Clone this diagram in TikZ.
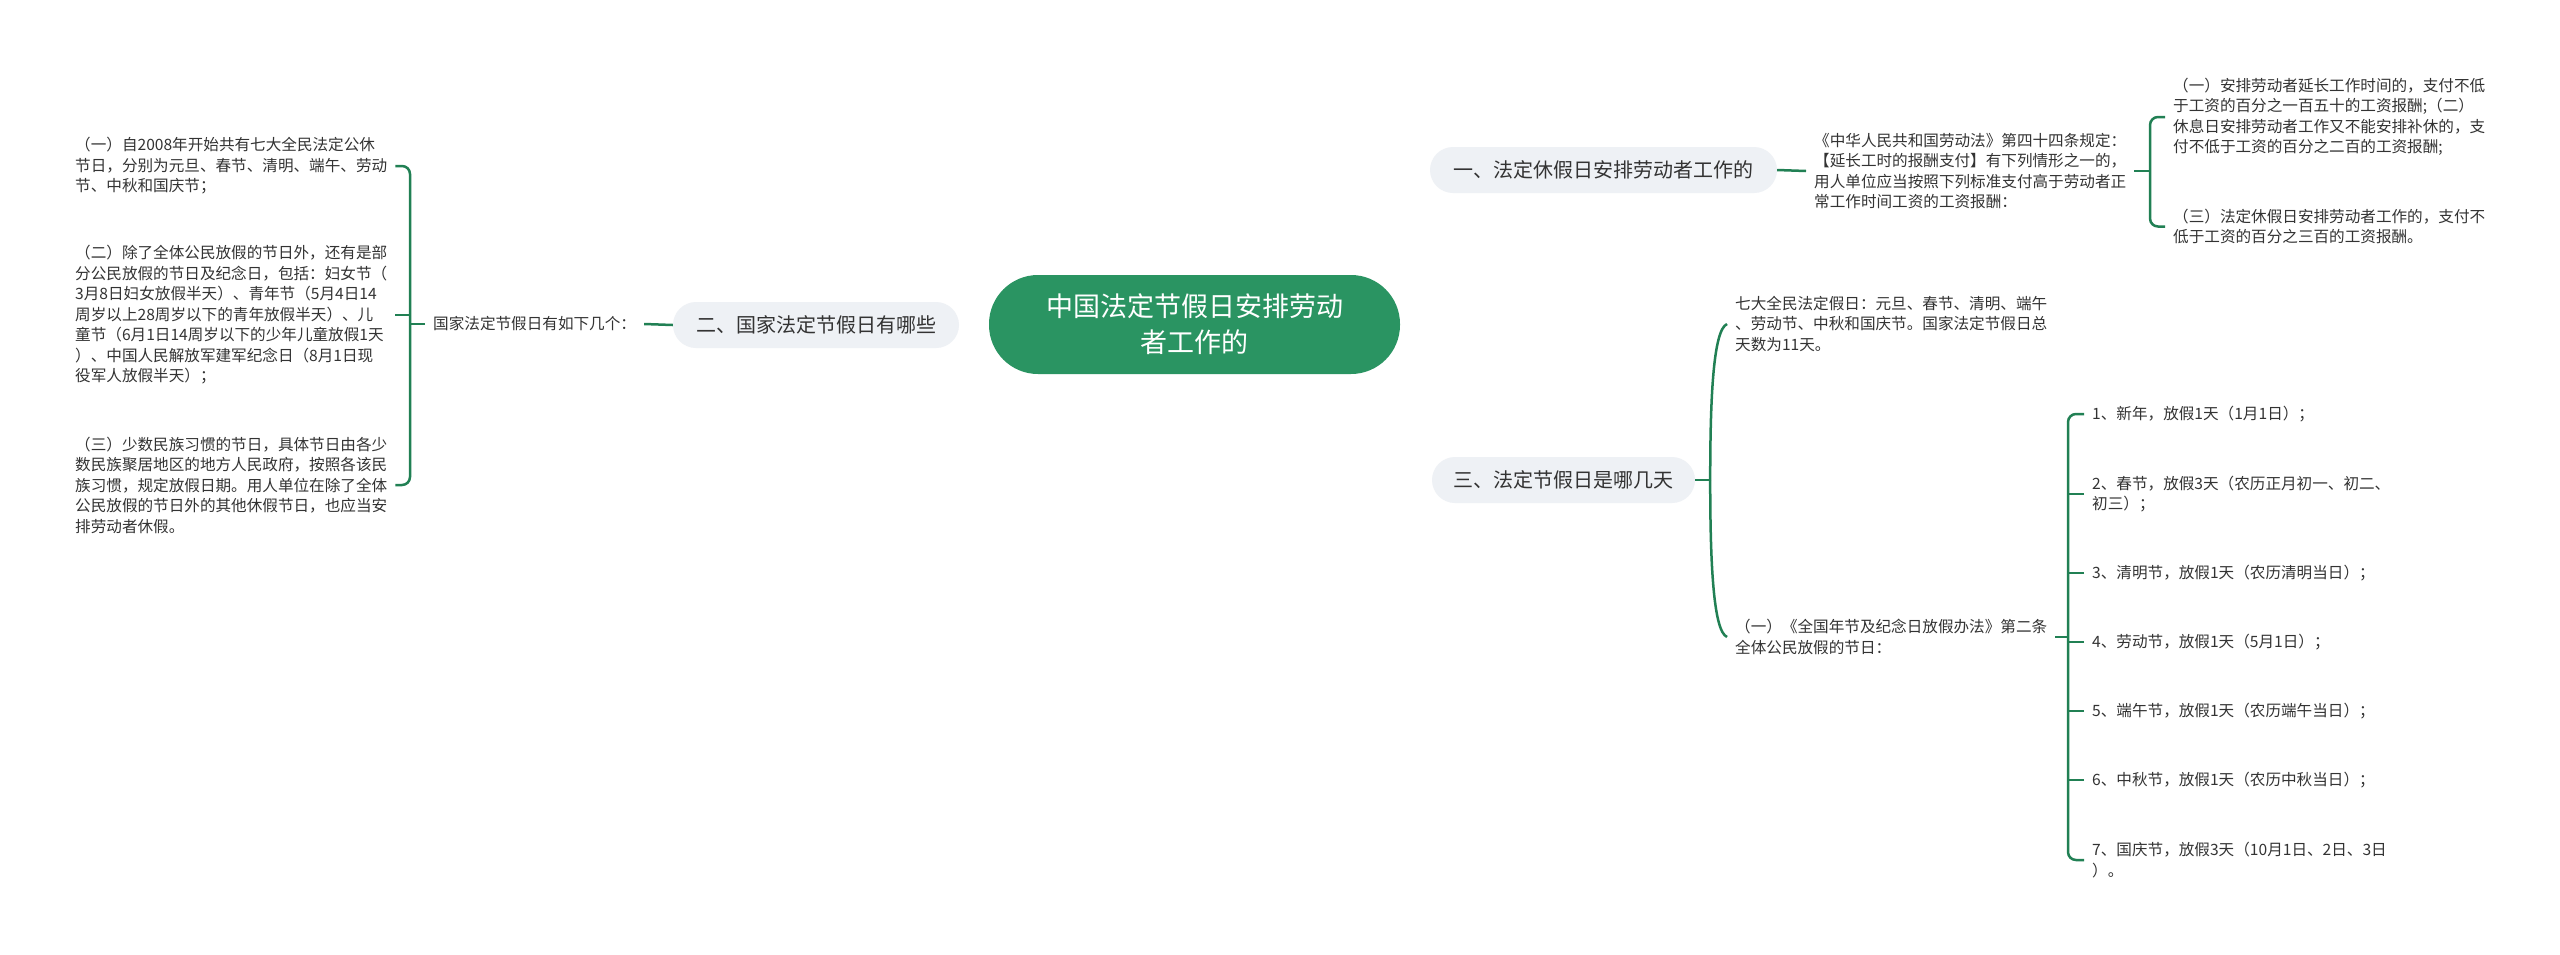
\documentclass[tikz,border=0pt]{standalone}
\usepackage{fontspec}
\setmainfont{Noto Sans CJK SC}
\usetikzlibrary{backgrounds,calc}
\definecolor{rootgreen}{RGB}{42,148,98}
\definecolor{linegreen}{RGB}{33,128,84}
\definecolor{branchgray}{RGB}{238,241,245}
\definecolor{txt}{RGB}{51,51,51}
\tikzset{
  rootbox/.style={fill=rootgreen, rounded corners=49pt, minimum width=411pt, minimum height=99pt,
    text=white, font=\fontsize{27}{36}\selectfont, align=center, inner sep=0pt},
  branchbox/.style={fill=branchgray, rounded corners=23pt, minimum height=46pt, text=txt,
    font=\fontsize{20}{24}\selectfont, inner xsep=20pt, inner ysep=0pt},
  leaf/.style={text=txt, font=\fontsize{15.6}{20.5}\selectfont, align=left,
    inner xsep=8pt, inner ysep=0pt, anchor=west},
  conn/.style={draw=linegreen, line width=2.5pt},
}
\begin{document}
\begin{tikzpicture}[x=1pt,y=-1pt]
\useasboundingbox[fill=white] (0,0) rectangle (2560,954);

% root and branches
\node[rootbox] (root) at (1194.5,324.5) {中国法定节假日安排劳动\\者工作的};
\node[branchbox, minimum width=347pt] (b1) at (1603.5,170) {一、法定休假日安排劳动者工作的};
\node[branchbox, minimum width=286pt] (b2) at (816,325) {二、国家法定节假日有哪些};
\node[branchbox, minimum width=263pt] (b3) at (1563.5,480) {三、法定节假日是哪几天};

% left side
\node[leaf] (g) at (425,324) {国家法定节假日有如下几个：};
\node[leaf] (l1) at (67,166) {（一）自2008年开始共有七大全民法定公休\\节日，分别为元旦、春节、清明、端午、劳动\\节、中秋和国庆节；};
\node[leaf] (l2) at (67,315) {（二）除了全体公民放假的节日外，还有是部\\分公民放假的节日及纪念日，包括：妇女节（\\3月8日妇女放假半天）、青年节（5月4日14\\周岁以上28周岁以下的青年放假半天）、儿\\童节（6月1日14周岁以下的少年儿童放假1天\\）、中国人民解放军建军纪念日（8月1日现\\役军人放假半天）；};
\node[leaf] (l3) at (67,485) {（三）少数民族习惯的节日，具体节日由各少\\数民族聚居地区的地方人民政府，按照各该民\\族习惯，规定放假日期。用人单位在除了全体\\公民放假的节日外的其他休假节日，也应当安\\排劳动者休假。};

% branch 1 children
\node[leaf] (b1c) at (1806,171) {《中华人民共和国劳动法》第四十四条规定：\\【延长工时的报酬支付】有下列情形之一的，\\用人单位应当按照下列标准支付高于劳动者正\\常工作时间工资的工资报酬：};
\node[leaf] (a1) at (2165,117) {（一）安排劳动者延长工作时间的，支付不低\\于工资的百分之一百五十的工资报酬;（二）\\休息日安排劳动者工作又不能安排补休的，支\\付不低于工资的百分之二百的工资报酬;};
\node[leaf] (a2) at (2165,226.5) {（三）法定休假日安排劳动者工作的，支付不\\低于工资的百分之三百的工资报酬。};

% branch 3 children
\node[leaf] (c1) at (1727,324) {七大全民法定假日：元旦、春节、清明、端午\\、劳动节、中秋和国庆节。国家法定节假日总\\天数为11天。};
\node[leaf] (c2) at (1727,637) {（一）《全国年节及纪念日放假办法》第二条\\全体公民放假的节日：};
\node[leaf] (i1) at (2084,414) {1、新年，放假1天（1月1日）；};
\node[leaf] (i2) at (2084,494) {2、春节，放假3天（农历正月初一、初二、\\初三）；};
\node[leaf] (i3) at (2084,573) {3、清明节，放假1天（农历清明当日）；};
\node[leaf] (i4) at (2084,642) {4、劳动节，放假1天（5月1日）；};
\node[leaf] (i5) at (2084,711) {5、端午节，放假1天（农历端午当日）；};
\node[leaf] (i6) at (2084,780) {6、中秋节，放假1天（农历中秋当日）；};
\node[leaf] (i7) at (2084,860) {7、国庆节，放假3天（10月1日、2日、3日\\）。};

\coordinate (lbx) at (410,0);
\coordinate (rbx) at (2150,0);
\coordinate (ibx) at (2068,0);

% connectors
\begin{scope}[on background layer]
\draw[conn] ([xshift=6pt]root.center) .. controls +(0,-134) and +(-150,0) .. (b1.west);
\draw[conn] ([xshift=6pt]root.center) .. controls +(0,136) and +(-150,0) .. (b3.west);
\draw[conn] (root.west) -- (b2.east);
\end{scope}
\draw[conn] (b2.west) -- (g.east);
\draw[conn] (g.west) -- (g.west -| lbx);
\draw[conn, rounded corners=8pt] (l1.east) -- (l1.east -| lbx) -- (l3.east -| lbx) -- (l3.east);
\draw[conn] (l2.east) -- (l2.east -| lbx);

\draw[conn] (b1.east) -- (b1c.west);
\draw[conn] (b1c.east) -- (b1c.east -| rbx);
\draw[conn, rounded corners=8pt] (a1.west) -- (a1.west -| rbx) -- (a2.west -| rbx) -- (a2.west);

\draw[conn] (b3.east) -- ++(15,0) coordinate (b3j);
\draw[conn] (b3j) .. controls +(0,-80) and +(-14,6) .. (c1.west);
\draw[conn] (b3j) .. controls +(0,80) and +(-14,-6) .. (c2.west);

\draw[conn] (c2.east) -- (c2.east -| ibx);
\draw[conn, rounded corners=8pt] (i1.west) -- (i1.west -| ibx) -- (i7.west -| ibx) -- (i7.west);
\foreach \n in {i2,i3,i4,i5,i6} { \draw[conn] (\n.west) -- (\n.west -| ibx); }
\end{tikzpicture}
\end{document}
